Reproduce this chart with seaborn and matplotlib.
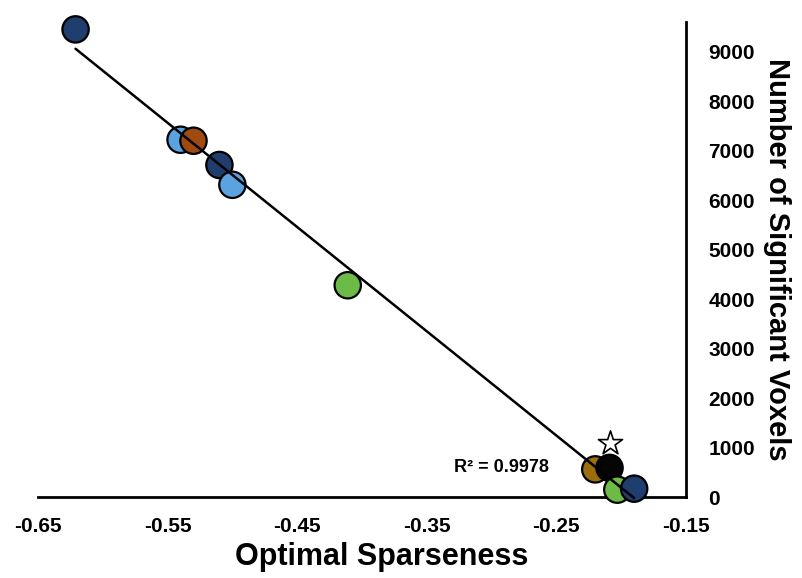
import numpy as np
import pandas as pd
import matplotlib
matplotlib.use("Agg")
import matplotlib.pyplot as plt
import seaborn as sns

# Data
sparseness = [-0.621, -0.540, -0.530, -0.510, -0.500, -0.411, -0.220, -0.209, -0.203, -0.190]
voxels = [9450, 7220, 7200, 6710, 6310, 4280, 560, 590, 150, 170]
groups = ["g1", "g2", "g3", "g1", "g2", "g4", "g5", "g6", "g4", "g1"]
group_colors = {"g1": "#1f3d6d", "g2": "#5aa3e0", "g3": "#a04a12", "g4": "#6dbb47",
                "g5": "#9a6e0c", "g6": "#050505"}
star_x = [-0.209]
star_y = [1100]
x_ticks = [-0.65, -0.55, -0.45, -0.35, -0.25, -0.15]
y_ticks = [0, 1000, 2000, 3000, 4000, 5000, 6000, 7000, 8000, 9000]
r2_text = "R\u00b2 = 0.9978"

df = pd.DataFrame({"x": sparseness, "y": voxels, "g": groups})

sns.set_theme(style="white")
plt.rcParams["font.family"] = ["Liberation Sans", "DejaVu Sans"]
plt.rcParams["text.color"] = "black"
plt.rcParams["axes.labelcolor"] = "black"
plt.rcParams["xtick.color"] = "black"
plt.rcParams["ytick.color"] = "black"

fig = plt.figure(figsize=(8.03, 5.78), dpi=100)
ax = fig.add_axes([0.0473, 0.140, 0.807, 0.822])

sns.scatterplot(data=df, x="x", y="y", hue="g", palette=group_colors, s=360,
                edgecolor="black", linewidth=1.6, legend=False, ax=ax, zorder=3)
for coll in ax.collections:
    coll.set_clip_on(False)

# regression line
coef = np.polyfit(df["x"], df["y"], 1)
xs = np.array([min(sparseness), max(sparseness)])
ax.plot(xs, np.polyval(coef, xs), color="black", lw=1.8, zorder=4, clip_on=False)

ax.scatter(star_x, star_y, marker="*", s=330, facecolor="white", edgecolor="black",
           linewidth=1.2, zorder=5, clip_on=False)

ax.text(-0.256, 590, r2_text, fontsize=13, fontweight="bold", ha="right", va="center",
        color="black")

ax.set_xlim(-0.65, -0.15)
ax.set_ylim(0, 9600)
ax.set_xticks(x_ticks)
ax.set_xticklabels([f"{v:.2f}" for v in x_ticks])
ax.set_yticks(y_ticks)
ax.yaxis.tick_right()
ax.yaxis.set_label_position("right")
ax.tick_params(axis="both", length=0, labelsize=15, colors="black")
ax.tick_params(axis="x", pad=14)
ax.tick_params(axis="y", pad=16)
for lab in ax.get_xticklabels() + ax.get_yticklabels():
    lab.set_fontweight("bold")

for side in ["top", "left"]:
    ax.spines[side].set_visible(False)
for side in ["bottom", "right"]:
    ax.spines[side].set_visible(True)
    ax.spines[side].set_color("black")
    ax.spines[side].set_linewidth(2)

ax.set_xlabel("Optimal Sparseness", fontsize=22, fontweight="bold", color="black")
ax.xaxis.set_label_coords(0.531, -0.094)
ax.set_ylabel("Number of Significant Voxels", fontsize=21, fontweight="bold",
              rotation=270, labelpad=26, color="black")
ax.grid(False)

fig.savefig("out.png", dpi=100)
